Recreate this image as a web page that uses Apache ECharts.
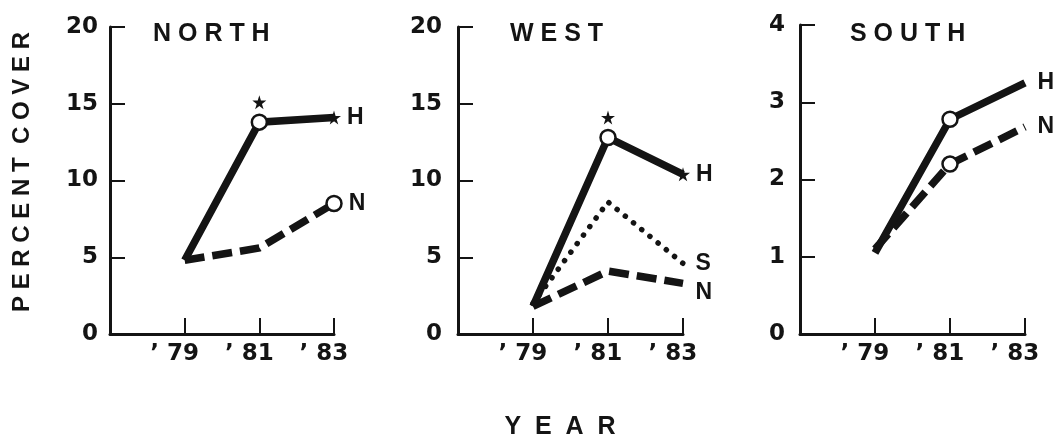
<!DOCTYPE html>
<html><head><meta charset="utf-8">
<script src="https://cdn.jsdelivr.net/npm/echarts@6/dist/echarts.min.js"></script>
<style>html,body{margin:0;padding:0;background:#fff}#c{width:1053px;height:439px}</style>
</head><body><div id="c"></div>
<script>
// ---- data ----
const axisCats = ["", "79", "81", "83"];   // "" = axis origin ('77), no tick
const years = ["79", "81", "83"];
const panelTitles = ["NORTH", "WEST", "SOUTH"];
const northH = [4.8, 13.8, 14.1];
const northN = [4.8, 5.6, 8.5];
const westH = [1.8, 12.8, 10.4];
const westS = [2.0, 8.6, 4.6];
const westN = [1.8, 4.1, 3.3];
const southH = [1.05, 2.78, 3.25];
const southN = [1.1, 2.2, 2.68];
// point markers: o = open circle, * = star, "" = none
const northHMarks = ["", "o", "*"];
const northNMarks = ["", "", "o"];
const westHMarks = ["", "o", "*"];
const westSMarks = ["", "", ""];
const westNMarks = ["", "", ""];
const southHMarks = ["", "o", ""];
const southNMarks = ["", "o", ""];
// significance stars above H points
const northSig = ["81"];
const westSig = ["81"];
const yMax = [20, 20, 4];
const yStep = [5, 5, 1];

// ---- chart ----
const FONT = "Liberation Sans";
const TICKFONT = "DejaVu Sans";
const INK = "#141414";
const starPath = "path://M50,0 L61,35 L98,35 L68,57 L79,91 L50,70 L21,91 L32,57 L2,35 L39,35 Z";
const grids = [
  {left: 110, top: 27, width: 224, height: 307},
  {left: 458, top: 27, width: 225, height: 307},
  {left: 800, top: 25, width: 225, height: 309}
];
const labelMargins = [12, 16, 15];

function lineSeries(g, values, marks, tag, kind, labelDy) {
  let ls = {color: INK, width: 7.5, type: "solid", cap: "butt", join: "miter"};
  if (kind === "dash") ls = {color: INK, width: 7.5, type: [20, 8], cap: "butt", join: "miter"};
  if (kind === "dot") ls = {color: INK, width: 5.5, type: [0.1, 10.5], cap: "round", join: "round"};
  return {
    type: "line", xAxisIndex: g, yAxisIndex: g, z: kind === "solid" ? 3 : 2,
    lineStyle: ls, showSymbol: true, animation: false,
    labelLayout: {hideOverlap: false, dy: labelDy || 0},
    data: values.map((v, i) => {
      const m = marks[i];
      const item = {value: [years[i], v]};
      if (m === "o") {
        item.symbol = "circle"; item.symbolSize = 15;
        item.itemStyle = {color: "#fff", borderColor: INK, borderWidth: 2.5, opacity: 1};
      } else if (m === "*") {
        item.symbol = starPath; item.symbolSize = 14;
        item.itemStyle = {color: INK, borderWidth: 0, opacity: 1};
      } else {
        item.symbol = "circle"; item.symbolSize = 1;
        item.itemStyle = {color: "rgba(0,0,0,0)", borderWidth: 0};
      }
      if (i === values.length - 1) {
        item.label = {show: true, position: "right", distance: m ? 6 : 12, formatter: tag,
          fontFamily: FONT, fontWeight: "bold", fontSize: 23, color: INK};
      }
      return item;
    })
  };
}
function sigSeries(g, cats, values) {
  return {
    type: "scatter", xAxisIndex: g, yAxisIndex: g, z: 4, animation: false,
    symbol: starPath, symbolSize: 14, symbolOffset: [0, -20],
    itemStyle: {color: INK, opacity: 1},
    data: cats.map(c => [c, values[years.indexOf(c)]])
  };
}

const spaced = s => s.split("").join(" ");

const option = {
  backgroundColor: "#fff",
  animation: false,
  grid: grids.map(g => Object.assign({containLabel: false}, g)),
  title: panelTitles.map((t, i) => ({
    text: spaced(t), left: [153, 510, 850][i], top: 22, padding: 0,
    textStyle: {fontFamily: FONT, fontWeight: "bold", fontSize: 25, color: INK}
  })),
  xAxis: grids.map((g, i) => ({
    type: "category", gridIndex: i, data: axisCats, boundaryGap: false,
    axisLine: {show: true, lineStyle: {color: INK, width: 3}},
    axisTick: {show: true, inside: true, length: 16, lineStyle: {color: INK, width: 2},
      interval: (idx) => idx > 0},
    axisLabel: {show: true, interval: 0, margin: 9, color: INK, fontFamily: TICKFONT, fontWeight: "bold", fontSize: 23,
      padding: [0, 20, 0, 0],
      formatter: v => v ? "\u2019 " + v : ""},
    splitLine: {show: false}
  })),
  yAxis: grids.map((g, i) => ({
    type: "value", gridIndex: i, min: 0, max: yMax[i], interval: yStep[i],
    axisLine: {show: true, lineStyle: {color: INK, width: 3}},
    axisTick: {show: true, inside: true, length: 15, lineStyle: {color: INK, width: 2}},
    axisLabel: {show: true, margin: labelMargins[i], color: INK, fontFamily: TICKFONT, fontWeight: "bold", fontSize: 23},
    splitLine: {show: false}
  })),
  graphic: [
    {type: "text", x: 22, y: 172, rotation: Math.PI / 2,
      style: {text: "P E R C E N T  C O V E R", align: "center", verticalAlign: "middle",
        font: "bold 24px 'Liberation Sans'", fill: INK}},
    {type: "text", x: 560, y: 427,
      style: {text: "Y  E  A  R", align: "center", verticalAlign: "middle",
        font: "bold 25px 'Liberation Sans'", fill: INK}}
  ],
  series: [
    lineSeries(0, northN, northNMarks, "N", "dash"),
    lineSeries(0, northH, northHMarks, "H", "solid"),
    sigSeries(0, northSig, northH),
    lineSeries(1, westS, westSMarks, "S", "dot"),
    lineSeries(1, westN, westNMarks, "N", "dash", 9),
    lineSeries(1, westH, westHMarks, "H", "solid"),
    sigSeries(1, westSig, westH),
    lineSeries(2, southN, southNMarks, "N", "dash"),
    lineSeries(2, southH, southHMarks, "H", "solid")
  ]
};
const chart = echarts.init(document.getElementById("c"), null, {renderer: "canvas"});
chart.setOption(option);
</script>
</body></html>
